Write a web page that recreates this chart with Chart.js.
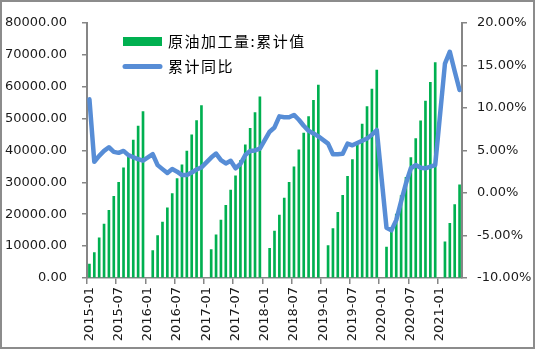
<!DOCTYPE html>
<html>
<head>
<meta charset="utf-8">
<script src="https://cdn.jsdelivr.net/npm/chart.js@4.4.1/dist/chart.umd.min.js"></script>
<style>
  html, body { margin: 0; padding: 0; background: #fff; }
  #wrap { width: 535px; height: 349px; }
</style>
</head>
<body>
<div id="wrap"><canvas id="oilChart" width="535" height="349"></canvas></div>
<script>
// months 2015-01 .. 2021-05
const years = [2015, 2016, 2017, 2018, 2019, 2020, 2021];
const lastMonth = 5;
const months = [];
for (let y of years) {
    for (let m = 1; m <= 12; m++) {
        if (y === 2021 && m > lastMonth) break;
        months.push(y + '-' + String(m).padStart(2, '0'));
    }
}

// 原油加工量:累计值 (January not reported except 2015)
const cumOutput = [
    4330, 7940, 12580, 16900, 21240, 25570, 30000, 34540, 38250, 43200, 47630, 52160,
    null, 8560, 13300, 17530, 21960, 26500, 31130, 35460, 39790, 44850, 49380, 54020,
    null, 8870, 13500, 18140, 22780, 27530, 32060, 36800, 41750, 46900, 51860, 56800,
    null, 9280, 14740, 19690, 25050, 30000, 34850, 40200, 45460, 50600, 55670, 60500,
    null, 10200, 15460, 20620, 25880, 31860, 37110, 42370, 48250, 53710, 59230, 65150,
    null, 9700, 14800, 20000, 25800, 31550, 37730, 43700, 49300, 55460, 61340, 67530,
    null, 11340, 17110, 23000, 29180
];

// 累计同比 (%)
const cumYoY = [
    11.0, 3.66, 4.36, 4.94, 5.37, 4.83, 4.71, 4.94, 4.44, 4.2, 3.97, 3.8,
    null, 4.55, 3.27, 2.8, 2.34, 2.8, 2.5, 2.1, 2.1, 2.4, 2.75, 3.0,
    null, 4.16, 4.63, 3.85, 3.47, 3.78, 2.9, 3.4, 4.45, 4.94, 5.0, 5.2,
    null, 7.2, 7.7, 9.0, 8.9, 8.9, 9.17, 8.6, 7.9, 7.3, 7.0, 6.65,
    null, 5.8, 4.55, 4.55, 4.6, 5.8, 5.6, 5.87, 6.14, 6.4, 6.84, 7.4,
    null, -4.1, -4.4, -3.2, -1.0, 1.14, 2.9, 3.27, 2.97, 2.9, 3.1, 3.27,
    null, 15.2, 16.6, 14.3, 12.1
];

const axisGray = '#868686';
const textColor = '#1a1a1a';
const tickFont = { family: 'DejaVu Sans', size: 13 };

// legend drawn inside the plot, top left
const innerLegend = {
    id: 'innerLegend',
    afterDraw(chart) {
        const c = chart.ctx;
        const area = chart.chartArea;
        const ds = chart.data.datasets;
        const x0 = area.left + 36;
        c.save();
        c.fillStyle = ds[0].backgroundColor;
        c.fillRect(x0, 37, 39, 9);
        c.strokeStyle = ds[1].borderColor;
        c.lineWidth = 5;
        c.lineCap = 'round';
        c.beginPath();
        c.moveTo(x0 + 2, 66.5);
        c.lineTo(x0 + 37, 66.5);
        c.stroke();
        c.fillStyle = '#000';
        c.font = '15px "Noto Sans CJK SC"';
        c.letterSpacing = '1.5px';
        c.textBaseline = 'middle';
        c.fillText(ds[0].label, x0 + 45, 41);
        c.fillText(ds[1].label, x0 + 45, 66);
        c.restore();
    }
};

// thin grey frame round the picture
const frame = {
    id: 'frame',
    afterDraw(chart) {
        const c = chart.ctx;
        c.save();
        c.strokeStyle = '#8c8c8c';
        c.lineWidth = 2;
        c.strokeRect(1, 1, chart.width - 2, chart.height - 2);
        c.restore();
    }
};

const ctx = document.getElementById('oilChart').getContext('2d');
new Chart(ctx, {
    data: {
        labels: months,
        datasets: [
            {
                type: 'bar',
                label: '原油加工量:累计值',
                data: cumOutput,
                backgroundColor: '#00b050',
                barThickness: 2,
                yAxisID: 'y',
                order: 1
            },
            {
                type: 'line',
                label: '累计同比',
                data: cumYoY,
                borderColor: '#578dd6',
                borderWidth: 4.5,
                pointRadius: 0,
                tension: 0,
                spanGaps: true,
                borderJoinStyle: 'round',
                borderCapStyle: 'round',
                yAxisID: 'y1',
                order: 0
            }
        ]
    },
    options: {
        responsive: false,
        animation: false,
        layout: { padding: { top: 19, left: 0, right: 0, bottom: 0 } },
        plugins: {
            legend: { display: false },
            tooltip: { enabled: false }
        },
        scales: {
            x: {
                offset: true,
                grid: {
                    offset: true,
                    drawOnChartArea: false,
                    tickLength: 6,
                    lineWidth: 1.5,
                    color: (c) => (c.index !== undefined && c.index % 6 === 0) ? axisGray : 'rgba(0,0,0,0)'
                },
                border: { color: axisGray, width: 1.5 },
                ticks: {
                    autoSkip: false,
                    maxRotation: 90,
                    minRotation: 90,
                    padding: 3,
                    color: textColor,
                    font: tickFont,
                    callback: (v, i) => (i % 6 === 0 ? months[i] : '')
                },
                afterFit: (s) => { s.height = 71; }
            },
            y: {
                position: 'left',
                min: 0,
                max: 80000,
                ticks: {
                    stepSize: 10000,
                    padding: 15,
                    color: textColor,
                    font: tickFont,
                    callback: (v) => v.toFixed(2)
                },
                grid: { drawOnChartArea: false, tickLength: 5, color: axisGray, lineWidth: 1.5 },
                border: { color: axisGray, width: 2 },
                afterFit: (s) => { s.width = 87; }
            },
            y1: {
                position: 'right',
                min: -10,
                max: 20,
                ticks: {
                    stepSize: 5,
                    padding: 10,
                    color: textColor,
                    font: tickFont,
                    callback: (v) => v.toFixed(2) + '%'
                },
                grid: { drawOnChartArea: false, tickLength: 5, color: axisGray, lineWidth: 1.5 },
                border: { color: axisGray, width: 2 },
                afterFit: (s) => { s.width = 73; }
            }
        }
    },
    plugins: [innerLegend, frame]
});
</script>
</body>
</html>
